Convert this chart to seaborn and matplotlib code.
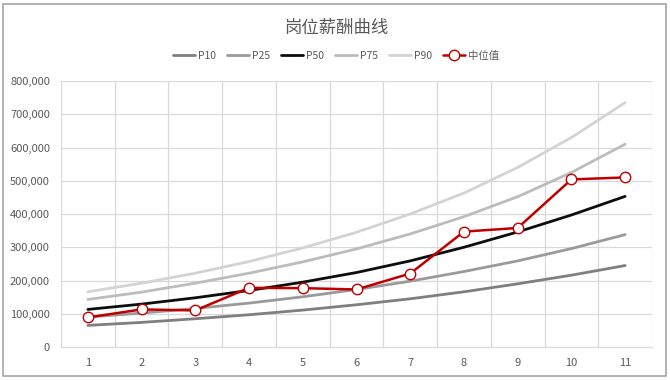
import matplotlib
matplotlib.use("Agg")
import matplotlib.pyplot as plt
import seaborn as sns
import pandas as pd
from matplotlib.patches import Rectangle
from matplotlib.ticker import FuncFormatter

levels = list(range(1, 12))
p10 = [65000, 74000, 85000, 97000, 111000, 127000, 145000, 166000, 190000, 216000, 245000]
p25 = [90000, 102000, 116000, 132000, 151000, 173000, 198000, 227000, 259000, 296000, 338000]
p50 = [113000, 129000, 148000, 170000, 195000, 224000, 259000, 300000, 346000, 397000, 453000]
p75 = [143000, 165000, 192000, 222000, 256000, 295000, 340000, 392000, 452000, 525000, 610000]
p90 = [166000, 192000, 222000, 257000, 298000, 345000, 400000, 463000, 540000, 630000, 735000]
median_vals = [89000, 113000, 110000, 178000, 177000, 173000, 221000, 347000, 358000, 504000, 510000]

series_names = ["P10", "P25", "P50", "P75", "P90"]
series_vals = [p10, p25, p50, p75, p90]
series_colors = ["#7f7f7f", "#9a9a9a", "#0d0d0d", "#bcbcbc", "#d3d3d3"]
title = "岗位薪酬曲线"
median_name = "中位值"

sns.set_theme(style="white")
plt.rcParams["font.family"] = ["Noto Sans CJK SC", "DejaVu Sans"]

fig = plt.figure(figsize=(6.7, 3.8), dpi=100)
ax = fig.add_axes([61 / 670, 1 - 347 / 380, (652 - 61) / 670, (347 - 81) / 380])

rows = []
for name, vals in zip(series_names, series_vals):
    for lv, v in zip(levels, vals):
        rows.append({"level": lv, "value": v, "series": name})
df = pd.DataFrame(rows)

for name, col in zip(series_names, series_colors):
    sub = df[df["series"] == name]
    sns.lineplot(data=sub, x="level", y="value", ax=ax, color=col, lw=2.0,
                 label=name, zorder=3)

dm = pd.DataFrame({"level": levels, "value": median_vals})
sns.lineplot(data=dm, x="level", y="value", ax=ax, color="#c00000", lw=1.8,
             marker="o", markersize=7.5, markerfacecolor="white",
             markeredgecolor="#c00000", markeredgewidth=1.0,
             label=median_name, zorder=5)

ax.set_xlim(0.5, 11.5)
ax.set_ylim(0, 800000)
ax.set_yticks(range(0, 800001, 100000))
ax.yaxis.set_major_formatter(FuncFormatter(lambda v, p: f"{int(v):,}"))
ax.set_xticks(levels)
ax.grid(False)
for y in range(100000, 800001, 100000):
    ax.axhline(y, color="#d9d9d9", lw=0.9, zorder=0)
for x in [i + 0.5 for i in range(0, 12)]:
    ax.axvline(x, color="#d9d9d9", lw=0.9, zorder=0)
for s in ["top", "right", "left"]:
    ax.spines[s].set_visible(False)
ax.spines["bottom"].set_color("#d9d9d9")
ax.spines["bottom"].set_linewidth(0.9)
ax.tick_params(axis="both", which="both", length=0, labelsize=8, colors="#595959")
ax.tick_params(axis="x", pad=8)
ax.tick_params(axis="y", pad=8)
ax.set_xlabel("")
ax.set_ylabel("")

leg = ax.legend(loc="center", bbox_to_anchor=(336 / 670, 1 - 56 / 380),
                bbox_transform=fig.transFigure, ncol=6, frameon=False,
                fontsize=7.5, handlelength=2.1, columnspacing=1.1, handletextpad=0.25)
for t in leg.get_texts():
    t.set_color("#595959")

fig.text(336 / 670, 1 - 28 / 380, title, ha="center", va="center",
         fontsize=12.5, color="#595959")

fig.patches.append(Rectangle((3 / 670, 4 / 380), 663 / 670, 372 / 380,
                             transform=fig.transFigure, fill=False,
                             edgecolor="#a6a6a6", lw=1.2))

fig.savefig("out.png", dpi=100, facecolor="white")
